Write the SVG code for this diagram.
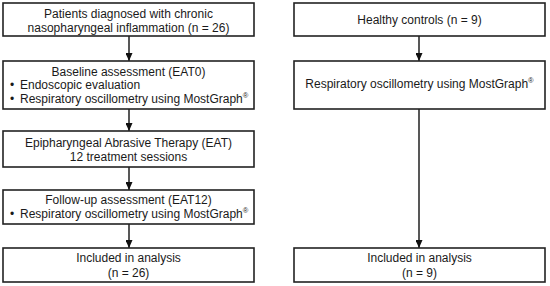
<svg xmlns="http://www.w3.org/2000/svg" width="550" height="286" viewBox="0 0 550 286">
<defs>
<marker id="ah" markerWidth="8" markerHeight="7" refX="8" refY="3.5" orient="auto" markerUnits="userSpaceOnUse" viewBox="0 0 8 7">
<path d="M0,0 L8,3.5 L0,7 z" fill="#111"/>
</marker>
<style>
.box{fill:#fff;stroke:#222;stroke-width:1.6}
text{font-family:"Liberation Sans",Arial,sans-serif;font-size:12px;fill:#1a1a1a}
.c{text-anchor:middle}
.sup{font-size:7.5px}
.con{stroke:#111;stroke-width:1.4;fill:none}
</style>
</defs>
<rect width="550" height="286" fill="#fff"/>
<g id="connectors">
<line class="con" x1="129" y1="36" x2="129" y2="61" marker-end="url(#ah)"/>
<line class="con" x1="129" y1="109" x2="129" y2="131" marker-end="url(#ah)"/>
<line class="con" x1="129" y1="167" x2="129" y2="190" marker-end="url(#ah)"/>
<line class="con" x1="129" y1="224" x2="129" y2="248" marker-end="url(#ah)"/>
<line class="con" x1="419" y1="36" x2="419" y2="61" marker-end="url(#ah)"/>
<line class="con" x1="419" y1="109" x2="419" y2="248" marker-end="url(#ah)"/>
</g>
<g id="patients">
<rect class="box" x="3" y="3" width="251" height="33"/>
<text class="c" x="128.5" y="18">Patients diagnosed with chronic</text>
<text class="c" x="128.5" y="32">nasopharyngeal inflammation (n = 26)</text>
</g>
<g id="baseline">
<rect class="box" x="3" y="61" width="251" height="48"/>
<text class="c" x="128.5" y="75.5">Baseline assessment (EAT0)</text>
<text x="10" y="89">•</text>
<text x="20" y="89">Endoscopic evaluation</text>
<text x="10" y="102.5">•</text>
<text x="20" y="102.5">Respiratory oscillometry using MostGraph<tspan class="sup" dy="-5">®</tspan></text>
</g>
<g id="eat">
<rect class="box" x="3" y="131" width="251" height="36"/>
<text class="c" x="128.5" y="147">Epipharyngeal Abrasive Therapy (EAT)</text>
<text class="c" x="128.5" y="161">12 treatment sessions</text>
</g>
<g id="followup">
<rect class="box" x="3" y="190" width="251" height="34"/>
<text class="c" x="128.5" y="204">Follow-up assessment (EAT12)</text>
<text x="10" y="218">•</text>
<text x="20" y="218">Respiratory oscillometry using MostGraph<tspan class="sup" dy="-5">®</tspan></text>
</g>
<g id="included-patients">
<rect class="box" x="3" y="248" width="251" height="34"/>
<text class="c" x="128.5" y="262">Included in analysis</text>
<text class="c" x="128.5" y="277">(n = 26)</text>
</g>
<g id="controls">
<rect class="box" x="294" y="3" width="251" height="33"/>
<text class="c" x="419.5" y="24">Healthy controls (n = 9)</text>
</g>
<g id="control-oscillometry">
<rect class="box" x="294" y="61" width="251" height="48"/>
<text class="c" x="419.5" y="88">Respiratory oscillometry using MostGraph<tspan class="sup" dy="-5">®</tspan></text>
</g>
<g id="included-controls">
<rect class="box" x="294" y="248" width="251" height="34"/>
<text class="c" x="419.5" y="262">Included in analysis</text>
<text class="c" x="419.5" y="277">(n = 9)</text>
</g>
</svg>
